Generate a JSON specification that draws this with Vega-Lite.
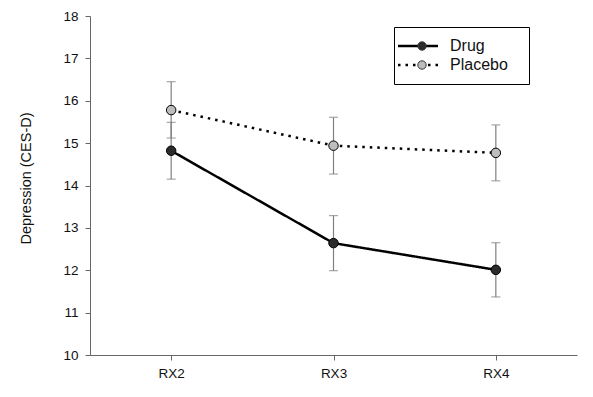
{
  "$schema": "https://vega.github.io/schema/vega-lite/v6.json",
  "width": 487,
  "height": 339,
  "autosize": {"type": "none"},
  "padding": {"left": 90, "top": 16, "right": 16, "bottom": 42},
  "background": "white",
  "config": {
    "view": {"stroke": null},
    "font": "Liberation Sans",
    "axis": {"grid": false, "domainColor": "#666666", "tickColor": "#666666", "labelColor": "#111111", "labelFont": "Liberation Sans", "titleFont": "Liberation Sans", "titleFontWeight": "normal", "titleColor": "#111111"}
  },
  "data": {
    "values": [
      {"rx": "RX2", "group": "Drug", "mean": 14.82, "lower": 14.15, "upper": 15.49},
      {"rx": "RX3", "group": "Drug", "mean": 12.64, "lower": 11.99, "upper": 13.29},
      {"rx": "RX4", "group": "Drug", "mean": 12.01, "lower": 11.37, "upper": 12.65},
      {"rx": "RX2", "group": "Placebo", "mean": 15.78, "lower": 15.12, "upper": 16.45},
      {"rx": "RX3", "group": "Placebo", "mean": 14.94, "lower": 14.27, "upper": 15.61},
      {"rx": "RX4", "group": "Placebo", "mean": 14.77, "lower": 14.11, "upper": 15.43}
    ]
  },
  "encoding": {
    "x": {
      "field": "rx", "type": "ordinal",
      "scale": {"type": "point", "padding": 0.5},
      "axis": {"title": null, "labelAngle": 0, "labelFontSize": 13.5, "tickSize": 5, "labelPadding": 6, "domainWidth": 1}
    }
  },
  "layer": [
    {
      "mark": {"type": "rule", "color": "#808080", "strokeWidth": 1.2},
      "encoding": {
        "y": {"field": "lower", "type": "quantitative"},
        "y2": {"field": "upper"}
      }
    },
    {
      "mark": {"type": "tick", "color": "#808080", "size": 9, "thickness": 1.2, "orient": "horizontal"},
      "encoding": {"y": {"field": "lower", "type": "quantitative"}}
    },
    {
      "mark": {"type": "tick", "color": "#808080", "size": 9, "thickness": 1.2, "orient": "horizontal"},
      "encoding": {"y": {"field": "upper", "type": "quantitative"}}
    },
    {
      "mark": {"type": "line", "color": "black", "strokeWidth": 2.5},
      "encoding": {
        "y": {
          "field": "mean", "type": "quantitative",
          "scale": {"domain": [10, 18], "nice": false, "zero": false},
          "axis": {"title": "Depression (CES-D)", "values": [10, 11, 12, 13, 14, 15, 16, 17, 18], "labelFontSize": 13.5, "tickSize": 5, "labelPadding": 7, "titleFontSize": 14.5, "titleX": -64, "titleY": 162, "titleBaseline": "middle"}
        },
        "strokeDash": {
          "field": "group", "type": "nominal",
          "scale": {"range": [[1, 0], [2.5, 5]]},
          "legend": {
            "title": "xx", "titleOrient": "right", "titleOpacity": 0, "titleFontSize": 8, "titlePadding": 1,
            "orient": "none", "legendX": 304, "legendY": 11,
            "padding": 11, "strokeColor": "black", "fillColor": "white",
            "symbolType": "M-4,0H4", "symbolSize": 100, "symbolStrokeColor": "black", "symbolStrokeWidth": 2.5,
            "symbolOffset": 5, "labelOffset": 24, "labelFontSize": 16, "labelFont": "Liberation Sans", "labelColor": "#111111",
            "rowPadding": 3
          }
        }
      }
    },
    {
      "mark": {"type": "point", "filled": true, "shape": "circle", "size": 90, "stroke": "black", "strokeWidth": 1, "opacity": 1},
      "encoding": {
        "y": {"field": "mean", "type": "quantitative"},
        "fill": {
          "field": "group", "type": "nominal",
          "scale": {"domain": ["Drug", "Placebo"], "range": ["#2b2b2b", "#bdbdbd"]},
          "legend": {
            "title": null, "orient": "none", "legendX": 313, "legendY": 11,
            "padding": 11, "symbolType": "circle", "symbolSize": 70, "symbolStrokeColor": "#333333", "symbolStrokeWidth": 1,
            "symbolOpacity": 1, "labelOffset": 0, "labelFontSize": 16, "labelExpr": "''", "rowPadding": 3
          }
        }
      }
    }
  ]
}
